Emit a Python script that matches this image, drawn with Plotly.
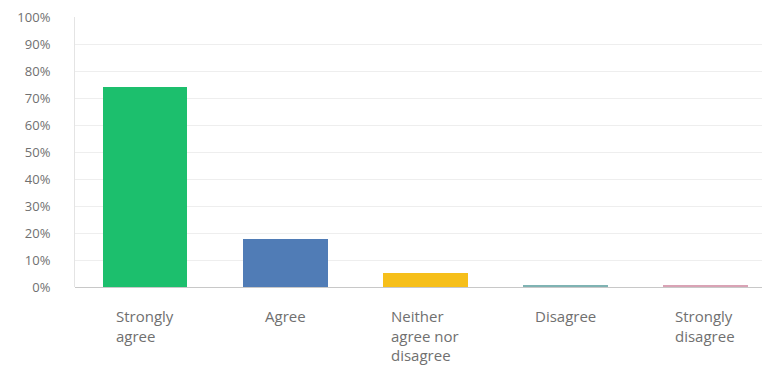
import plotly.graph_objects as go

categories = ["Strongly agree", "Agree", "Neither agree nor disagree", "Disagree", "Strongly disagree"]
label_lines = [["Strongly", "agree"], ["Agree"], ["Neither", "agree nor", "disagree"], ["Disagree"], ["Strongly", "disagree"]]
percent = [74.1, 17.8, 5.2, 0.9, 0.4]
colors = ["#1cbf6d", "#507cb6", "#f6bf1a", "#7fb3b3", "#d9a3b5"]
y_ticks = list(range(0, 101, 10))
y_tick_text = [f"{v}%" for v in y_ticks]

FONT = "Open Sans, Lato, sans-serif"

fig = go.Figure()
fig.add_trace(go.Bar(
    x=list(range(len(categories))),
    y=percent,
    marker=dict(color=colors, line=dict(width=0)),
    width=0.607,
    hovertext=categories,
    showlegend=False,
))

# category labels: block centred under each bar, lines left-aligned
for i, lines in enumerate(label_lines):
    fig.add_annotation(
        x=i, y=-0.062, xref="x", yref="paper",
        text="<br>".join(lines), showarrow=False,
        xanchor="center", yanchor="top", align="left",
        font=dict(family=FONT, size=15, color="#707070"),
    )

fig.update_layout(
    width=762, height=367,
    margin=dict(l=75, r=0, t=17, b=80),
    paper_bgcolor="white", plot_bgcolor="white",
    bargap=0,
    xaxis=dict(
        range=[-0.5, 4.407], showticklabels=False, showgrid=False,
        zeroline=False, showline=False, fixedrange=True,
    ),
    yaxis=dict(
        range=[0, 100], tickvals=y_ticks, ticktext=y_tick_text,
        showgrid=True, gridcolor="#eeeeee", gridwidth=1,
        zeroline=True, zerolinecolor="#c8c8c8", zerolinewidth=1,
        showline=True, linecolor="#e4e4e4", linewidth=1,
        ticks="", ticklabelstandoff=21,
        tickfont=dict(family=FONT, size=13, color="#707070"),
    ),
)

fig.write_html("out.html")
